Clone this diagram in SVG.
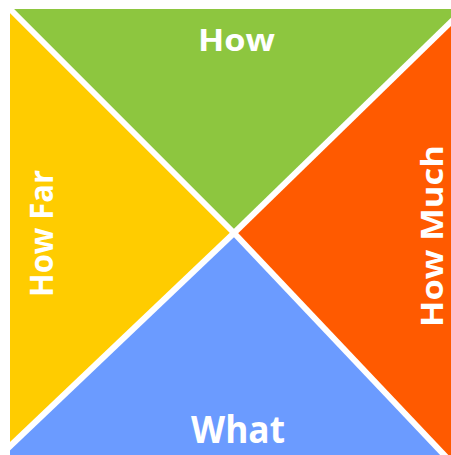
<svg xmlns="http://www.w3.org/2000/svg" width="451" height="455" viewBox="0 0 451 455">
<style>
.lbl{font-family:"Open Sans","Liberation Sans",sans-serif;font-weight:700;fill:#ffffff;text-anchor:middle}
.div{stroke:#ffffff;stroke-width:6;fill:none;stroke-linecap:butt}
</style>
<rect x="0" y="0" width="451" height="455" fill="#ffffff"/>
<g id="how">
<polygon points="10,9 451,9 451,22 234,233" fill="#8dc63f"/>
<text class="lbl" x="236.5" y="51" font-size="30" textLength="77" lengthAdjust="spacingAndGlyphs">How</text>
</g>
<g id="how-much">
<polygon points="451,22 451,455 444,455 234,233" fill="#ff5a00"/>
<text class="lbl" transform="translate(443,236) rotate(-90)" font-size="31" textLength="182" lengthAdjust="spacingAndGlyphs">How Much</text>
</g>
<g id="what">
<polygon points="444,455 10,455 10,446 234,233" fill="#6b9bff"/>
<text class="lbl" x="238" y="443" font-size="38" textLength="94" lengthAdjust="spacingAndGlyphs">What</text>
</g>
<g id="how-far">
<polygon points="10,446 10,9 234,233" fill="#ffcc00"/>
<text class="lbl" transform="translate(53,233.5) rotate(-90)" font-size="33" textLength="127" lengthAdjust="spacingAndGlyphs">How Far</text>
</g>
<g id="connectors">
<line class="div" x1="234" y1="233" x2="8" y2="7"/>
<line class="div" x1="234" y1="233" x2="455" y2="18"/>
<line class="div" x1="234" y1="233" x2="448" y2="459"/>
<line class="div" x1="234" y1="233" x2="6" y2="450"/>
</g>
</svg>
